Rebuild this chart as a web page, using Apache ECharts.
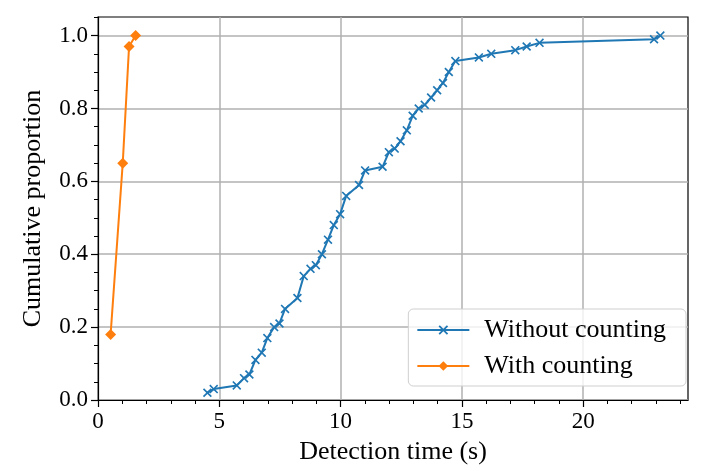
<!DOCTYPE html>
<html>
<head>
<meta charset="utf-8">
<script src="https://cdn.jsdelivr.net/npm/echarts@6/dist/echarts.min.js"></script>
<style>
  html, body { margin: 0; padding: 0; background: #fff; }
  #chart { width: 706px; height: 471px; }
</style>
</head>
<body>
<div id="chart"></div>
<script>
// detection times (s) and cumulative proportion
var withoutTimes = [4.51, 4.77, 5.72, 6.02, 6.24, 6.49, 6.75, 6.98, 7.26, 7.48,
    7.71, 8.22, 8.48, 8.76, 8.98, 9.23, 9.48, 9.72, 9.98, 10.23,
    10.76, 11.01, 11.73, 11.99, 12.23, 12.47, 12.73, 12.97, 13.22, 13.47,
    13.73, 13.98, 14.22, 14.46, 14.73, 15.70, 16.21, 17.20, 17.67, 18.20,
    22.92, 23.18];
var withoutProp = [0.02, 0.03, 0.04, 0.06, 0.07, 0.11, 0.13, 0.17, 0.20, 0.21,
    0.25, 0.28, 0.34, 0.36, 0.37, 0.40, 0.44, 0.48, 0.51, 0.56,
    0.59, 0.63, 0.64, 0.68, 0.69, 0.71, 0.74, 0.78, 0.80, 0.81,
    0.83, 0.85, 0.87, 0.90, 0.93, 0.94, 0.95, 0.96, 0.97, 0.98,
    0.99, 1.00];
var withTimes = [0.52, 1.02, 1.28, 1.55];
var withProp = [0.18, 0.65, 0.97, 1.00];

var seriesNames = ['Without counting', 'With counting'];
var xTicks = [0, 5, 10, 15, 20];
var yTicks = [0.0, 0.2, 0.4, 0.6, 0.8, 1.0];

function pairs(xs, ys) {
    return xs.map(function(x, i) { return [x, ys[i]]; });
}

var crossPath = 'path://M0,1.3 L1.3,0 L5,3.7 L8.7,0 L10,1.3 L6.3,5 L10,8.7 L8.7,10 L5,6.3 L1.3,10 L0,8.7 L3.7,5 Z';
var font = '"Liberation Serif", "DejaVu Serif", serif';

var chart = echarts.init(document.getElementById('chart'));
var option = {
    backgroundColor: '#fff',
    animation: false,
    grid: {
        left: 98, right: 18, top: 17, bottom: 71,
        show: true, borderColor: '#000', borderWidth: 1.2
    },
    legend: {
        orient: 'vertical',
        right: 20, bottom: 85,
        data: seriesNames,
        itemWidth: 52, itemHeight: 12, itemGap: 10,
        padding: [8, 20, 7, 8],
        borderColor: '#cfcfcf', borderWidth: 1, borderRadius: 5,
        backgroundColor: 'rgba(255,255,255,0.8)',
        textStyle: { fontFamily: font, fontSize: 26, color: '#000', padding: [0, 0, 0, 10] }
    },
    xAxis: {
        type: 'value',
        min: 0, max: 24.32, interval: 5,
        name: 'Detection time (s)',
        nameLocation: 'middle', nameGap: 39,
        nameTextStyle: { fontFamily: font, fontSize: 26, color: '#000' },
        axisLine: { lineStyle: { color: '#000', width: 1.2 } },
        axisTick: { show: true, length: 7, lineStyle: { color: '#000', width: 1.2 },
            customValues: xTicks },
        minorTick: { show: true, splitNumber: 5, length: 4, lineStyle: { color: '#000', width: 1 } },
        axisLabel: { fontFamily: font, fontSize: 23, color: '#000', margin: 10,
            customValues: xTicks, formatter: function(v) { return String(v); } },
        splitLine: { show: true, lineStyle: { color: '#b0b0b0', width: 1.5 } }
    },
    yAxis: {
        type: 'value',
        min: 0, max: 1.051, interval: 0.2,
        name: 'Cumulative proportion',
        nameLocation: 'middle', nameGap: 52,
        nameTextStyle: { fontFamily: font, fontSize: 26, color: '#000' },
        axisLine: { show: true, lineStyle: { color: '#000', width: 1.2 } },
        axisTick: { show: true, length: 7, lineStyle: { color: '#000', width: 1.2 },
            customValues: yTicks },
        minorTick: { show: true, splitNumber: 4, length: 4, lineStyle: { color: '#000', width: 1 } },
        axisLabel: { fontFamily: font, fontSize: 23, color: '#000', margin: 10,
            customValues: yTicks, formatter: function(v) { return v.toFixed(1); } },
        splitLine: { show: true, lineStyle: { color: '#b0b0b0', width: 1.5 } }
    },
    series: [{
        name: seriesNames[0],
        type: 'line',
        data: pairs(withoutTimes, withoutProp),
        symbol: crossPath,
        symbolSize: 9,
        showAllSymbol: true,
        itemStyle: { color: '#1f77b4' },
        lineStyle: { color: '#1f77b4', width: 2 }
    }, {
        name: seriesNames[1],
        type: 'line',
        data: pairs(withTimes, withProp),
        symbol: 'diamond',
        symbolSize: 11,
        itemStyle: { color: '#ff7f0e' },
        lineStyle: { color: '#ff7f0e', width: 2 }
    }]
};
chart.setOption(option);
</script>
</body>
</html>
